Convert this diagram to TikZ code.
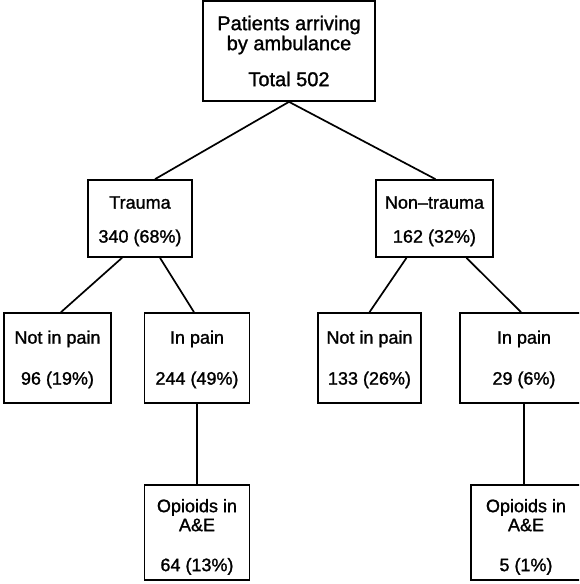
\documentclass[tikz,border=0pt]{standalone}
\usepackage{fontspec}
\setmainfont{Liberation Sans}[RawFeature={embolden=1.3}]
\begin{document}
\begin{tikzpicture}[x=1pt,y=-1pt,
  box/.style={draw=black, line width=1.7pt, inner sep=0pt, align=center,
    font=\fontsize{18}{20}\selectfont},
  link/.style={draw=black, line width=1.7pt}]
\useasboundingbox (0,0) rectangle (579,584);
\clip (0,0) rectangle (579,584);
\node[box, minimum width=172pt, minimum height=100pt,
  font=\fontsize{20}{20}\selectfont] (top) at (289,51)
  {Patients arriving\\by ambulance\\[16pt]Total 502};
\node[box, minimum width=104pt, minimum height=77pt] (tr) at (140,218.5)
  {\rule{0pt}{18pt}Trauma\\[14pt]340 (68\%)};
\node[box, minimum width=117pt, minimum height=77pt] (nt) at (434.5,218.5)
  {\rule{0pt}{18pt}Non{\textendash}trauma\\[14pt]162 (32\%)};
\node[box, minimum width=107pt, minimum height=90pt] (np1) at (57.5,358)
  {\rule{0pt}{16pt}Not in pain\\[21pt]96 (19\%)};
\node[box, minimum width=105pt, minimum height=90pt] (ip1) at (197,358)
  {\rule{0pt}{16pt}In pain\\[21pt]244 (49\%)};
\node[box, minimum width=103pt, minimum height=90pt] (np2) at (369.5,358)
  {\rule{0pt}{16pt}Not in pain\\[21pt]133 (26\%)};
\node[box, minimum width=128pt, minimum height=90pt] (ip2) at (524,358)
  {\rule{0pt}{16pt}In pain\\[21pt]29 (6\%)};
\node[box, minimum width=105pt, minimum height=95pt] (op1) at (197,532.5)
  {\rule{0pt}{22pt}Opioids in\\[-1pt]A\&E\\[20pt]64 (13\%)};
\node[box, minimum width=110pt, minimum height=95pt] (op2) at (526,532.5)
  {\rule{0pt}{22pt}Opioids in\\[-1pt]A\&E\\[20pt]5 (1\%)};
\draw[link] (top.south) -- ([xshift=15pt]tr.north);
\draw[link] (top.south) -- ([xshift=1pt]nt.north);
\draw[link] ([xshift=-18pt]tr.south) -- ([xshift=3.5pt]np1.north);
\draw[link] ([xshift=20pt]tr.south) -- ([xshift=-3pt]ip1.north);
\draw[link] ([xshift=-28pt]nt.south) -- (np2.north);
\draw[link] ([xshift=32pt]nt.south) -- ([xshift=-3pt]ip2.north);
\draw[link] (ip1.south) -- (op1.north);
\draw[link] (ip2.south) -- ([xshift=-2pt]op2.north);
\end{tikzpicture}
\end{document}
